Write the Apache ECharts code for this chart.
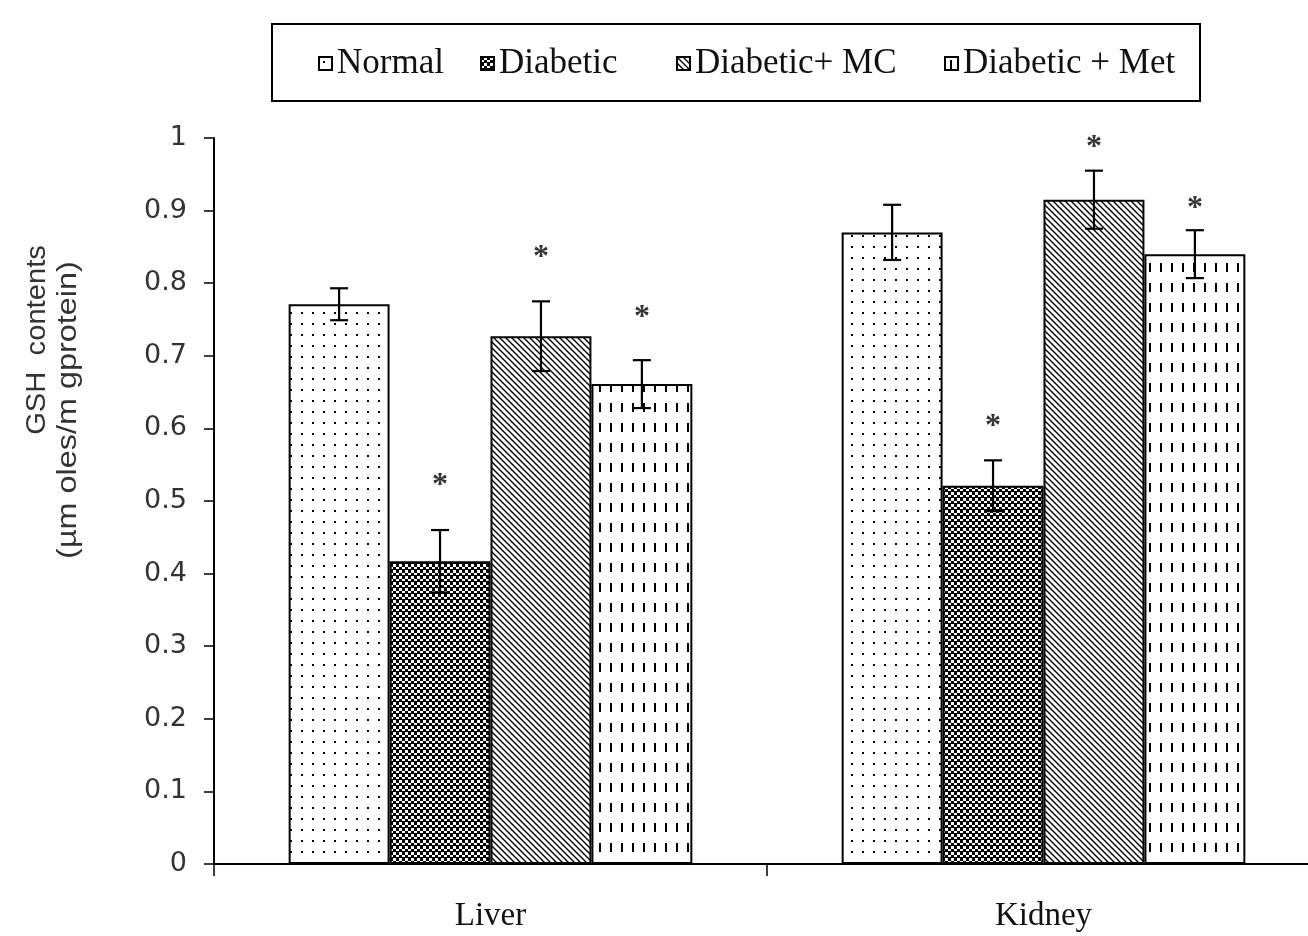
<!DOCTYPE html>
<html>
<head>
<meta charset="utf-8">
<script src="https://cdn.jsdelivr.net/npm/echarts@6/dist/echarts.min.js"></script>
<style>html,body{margin:0;padding:0;background:#fff}#c{width:1308px;height:936px}</style>
</head>
<body>
<div id="c"></div>
<script>
// ---- data ----
const categories = ['Liver', 'Kidney'];
const seriesNames = ['Normal', 'Diabetic', 'Diabetic+ MC', 'Diabetic + Met'];
const normalVals = [0.771, 0.870];
const diabeticVals = [0.417, 0.521];
const mcVals = [0.727, 0.915];
const metVals = [0.661, 0.840];
const normalErr = [0.022, 0.038];
const diabeticErr = [0.043, 0.035];
const mcErr = [0.048, 0.040];
const metErr = [0.033, 0.033];
// significance asterisk positions (value units)
const normalStar = [null, null];
const diabeticStar = [0.532, 0.614];
const mcStar = [0.846, 0.997];
const metStar = [0.763, 0.913];
const yTicks = ['0', '0.1', '0.2', '0.3', '0.4', '0.5', '0.6', '0.7', '0.8', '0.9', '1'];
const yNameLines = ['GSH  contents', '(µm oles/m gprotein)'];

// ---- patterns ----
function mk(w, h, draw) {
  const c = document.createElement('canvas');
  c.width = w; c.height = h;
  const g = c.getContext('2d');
  g.fillStyle = '#fff'; g.fillRect(0, 0, w, h);
  g.fillStyle = '#000'; g.strokeStyle = '#000';
  draw(g);
  return { image: c, repeat: 'repeat' };
}
const patDots = mk(11, 11, g => { g.fillRect(4, 4, 2, 2); });
const patCheck = mk(6, 6, g => { g.fillRect(0, 0, 3, 3); g.fillRect(3, 3, 3, 3); g.fillRect(0, 5, 6, 1); });
const patDiag = mk(6, 6, g => {
  g.lineWidth = 1.4;
  g.beginPath(); g.moveTo(-1, -1); g.lineTo(7, 7);
  g.moveTo(-1, 5); g.lineTo(1, 7); g.moveTo(5, -1); g.lineTo(7, 1); g.stroke();
});
const patDash = mk(11, 20, g => { g.fillRect(5, 3, 2, 9); });
const patterns = [patDots, patCheck, patDiag, patDash];

const vals = [normalVals, diabeticVals, mcVals, metVals];
const errs = [normalErr, diabeticErr, mcErr, metErr];
const stars = [normalStar, diabeticStar, mcStar, metStar];
const CAT_GAP = 0.27;

const series = [];
seriesNames.forEach((n, i) => {
  series.push({
    name: n, type: 'bar', data: vals[i],
    barGap: '0%', barCategoryGap: (CAT_GAP * 100) + '%',
    itemStyle: { color: patterns[i], borderColor: '#000', borderWidth: 2 },
    z: 2
  });
});
seriesNames.forEach((n, i) => {
  series.push({
    name: 'err' + i, type: 'custom', z: 5,
    data: categories.map((c, k) => [k, vals[i][k], errs[i][k], stars[i][k] == null ? NaN : stars[i][k]]),
    renderItem: function (params, api) {
      const x = api.value(0), v = api.value(1), e = api.value(2), s = api.value(3);
      const band = api.size([1, 0])[0];
      const bw = band * (1 - CAT_GAP) / 4;
      const cx = api.coord([x, v])[0] + (i - 1.5) * bw;
      const yt = api.coord([x, v + e])[1];
      const yb = api.coord([x, v - e])[1];
      const cap = 9;
      const st = { stroke: '#000', lineWidth: 2.2 };
      const ch = [
        { type: 'line', shape: { x1: cx, y1: yt, x2: cx, y2: yb }, style: st },
        { type: 'line', shape: { x1: cx - cap, y1: yt, x2: cx + cap, y2: yt }, style: st },
        { type: 'line', shape: { x1: cx - cap, y1: yb, x2: cx + cap, y2: yb }, style: st }
      ];
      if (!isNaN(s)) {
        const ys = api.coord([x, s])[1];
        ch.push({ type: 'text', style: { text: '*', x: cx, y: ys + 8, align: 'center', verticalAlign: 'middle',
          font: 'bold 32px "Liberation Serif"', fill: '#333' } });
      }
      return { type: 'group', children: ch };
    }
  });
});

const legendLefts = [318, 480, 676, 944];
const legends = seriesNames.map((n, i) => ({
  data: [n], left: legendLefts[i], top: 46, padding: 0, icon: 'rect',
  itemWidth: 13, itemHeight: 13,
  textStyle: { fontFamily: 'Liberation Serif', fontSize: 35, color: '#111' }
}));

const chart = echarts.init(document.getElementById('c'), null, { renderer: 'canvas' });
chart.setOption({
  animation: false,
  backgroundColor: '#fff',
  graphic: [
    { type: 'rect', shape: { x: 272, y: 24, width: 928, height: 77 },
      style: { fill: 'none', stroke: '#000', lineWidth: 2 }, z: 10 },
    { type: 'text', x: 38, y: 340, rotation: Math.PI / 2, scaleX: 1.08,
      style: { text: yNameLines[0], align: 'center', verticalAlign: 'middle',
        font: '27px "Liberation Sans"', fill: '#333' } },
    { type: 'text', x: 69, y: 410, rotation: Math.PI / 2, scaleX: 1.2,
      style: { text: yNameLines[1], align: 'center', verticalAlign: 'middle',
        font: '27px "Liberation Sans"', fill: '#333' } }
  ],
  legend: legends,
  grid: { left: 214, right: -12, top: 138, bottom: 72, containLabel: false, outerBoundsMode: 'none' },
  xAxis: {
    type: 'category', data: categories,
    axisLine: { lineStyle: { color: '#000', width: 2 } },
    axisTick: { show: true, length: 12, lineStyle: { color: '#000', width: 1.5 } },
    axisLabel: { fontFamily: 'Liberation Serif', fontSize: 33, color: '#111', margin: 36 }
  },
  yAxis: {
    type: 'value', min: 0, max: 1, interval: 0.1,
    splitLine: { show: false },
    axisLine: { show: true, lineStyle: { color: '#000', width: 2 } },
    axisTick: { show: true, length: 10, lineStyle: { color: '#000', width: 1.5 } },
    axisLabel: { fontFamily: 'DejaVu Sans', fontSize: 27, color: '#333', margin: 27,
      formatter: (v) => yTicks[Math.round(v * 10)] }
  },
  series: series
});
</script>
</body>
</html>
